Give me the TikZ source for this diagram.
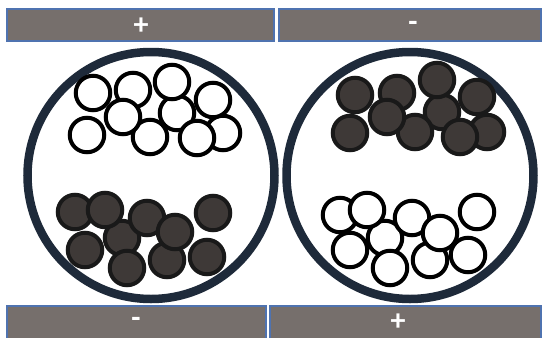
\documentclass[tikz,border=0pt]{standalone}
\usepackage{fontspec}
\setmainfont{Carlito}
\begin{document}
\begin{tikzpicture}[x=1pt,y=-1pt,
  bar/.style={draw=barblue, line width=1.5pt, fill=bargray},
  sign/.style={text=white, font=\fontsize{30}{30}\selectfont\bfseries, inner sep=0pt, text depth=0pt},
  vessel/.style={draw=navy, line width=8.5pt},
  wball/.style={circle, draw=black, line width=4pt, fill=white, minimum size=34.5pt, inner sep=0pt},
  dball/.style={circle, draw=black!90, line width=4pt, fill=darkfill, minimum size=34.5pt, inner sep=0pt}]
\definecolor{barblue}{HTML}{4F73B0}
\definecolor{bargray}{HTML}{766F6C}
\definecolor{navy}{HTML}{1E2A3A}
\definecolor{darkfill}{HTML}{3E3937}
\useasboundingbox (0,0) rectangle (542,338);
\fill[white] (0,0) rectangle (542,338);
% bars
\draw[bar] (7,9) rectangle (274,41);
\draw[bar] (279,9) rectangle (541,41);
\draw[bar] (7,306) rectangle (266,340);
\draw[bar] (270,306) rectangle (541,340);
\node[sign] (tp) at (141,26) {+};
\node[sign] (tm) at (413,26) {-};
\node[sign] (bm) at (136,322) {-};
\node[sign] (bp) at (398,322) {+};
% vessels
\draw[vessel] (151,175.5) circle (123.5);
\draw[vessel] (410,175.5) circle (123.5);
% left top white balls (back to front)
\node[wball] (lw7) at (87,135) {};
\node[wball] (lw10) at (223,133) {};
\node[wball] (lw6) at (177,113) {};
\node[wball] (lw8) at (150,137) {};
\node[wball] (lw1) at (93,93) {};
\node[wball] (lw2) at (133,90) {};
\node[wball] (lw3) at (172,82) {};
\node[wball] (lw4) at (213,100) {};
\node[wball] (lw5) at (123,117) {};
\node[wball] (lw9) at (197,138) {};
% left bottom dark balls
\node[dball] (ld1) at (75,212) {};
\node[dball] (ld6) at (122,238) {};
\node[dball] (ld3) at (147,218) {};
\node[dball] (ld2) at (105,210) {};
\node[dball] (ld5) at (85,250) {};
\node[dball] (ld9) at (167,260) {};
\node[dball] (ld8) at (127,268) {};
\node[dball] (ld10) at (207,257) {};
\node[dball] (ld7) at (175,232) {};
\node[dball] (ld4) at (213,213) {};
% right top dark balls
\node[dball] (rd7) at (350,133) {};
\node[dball] (rd10) at (487,132) {};
\node[dball] (rd6) at (442,112) {};
\node[dball] (rd8) at (415,132) {};
\node[dball] (rd1) at (355,95) {};
\node[dball] (rd2) at (397,93) {};
\node[dball] (rd3) at (437,80) {};
\node[dball] (rd4) at (477,97) {};
\node[dball] (rd5) at (387,117) {};
\node[dball] (rd9) at (460,137) {};
% right bottom white balls
\node[wball] (rw1) at (340,215) {};
\node[wball] (rw6) at (385,238) {};
\node[wball] (rw3) at (412,218) {};
\node[wball] (rw2) at (367,210) {};
\node[wball] (rw5) at (350,250) {};
\node[wball] (rw9) at (430,260) {};
\node[wball] (rw8) at (390,268) {};
\node[wball] (rw10) at (468,255) {};
\node[wball] (rw7) at (440,233) {};
\node[wball] (rw4) at (477,212) {};
\end{tikzpicture}
\end{document}
